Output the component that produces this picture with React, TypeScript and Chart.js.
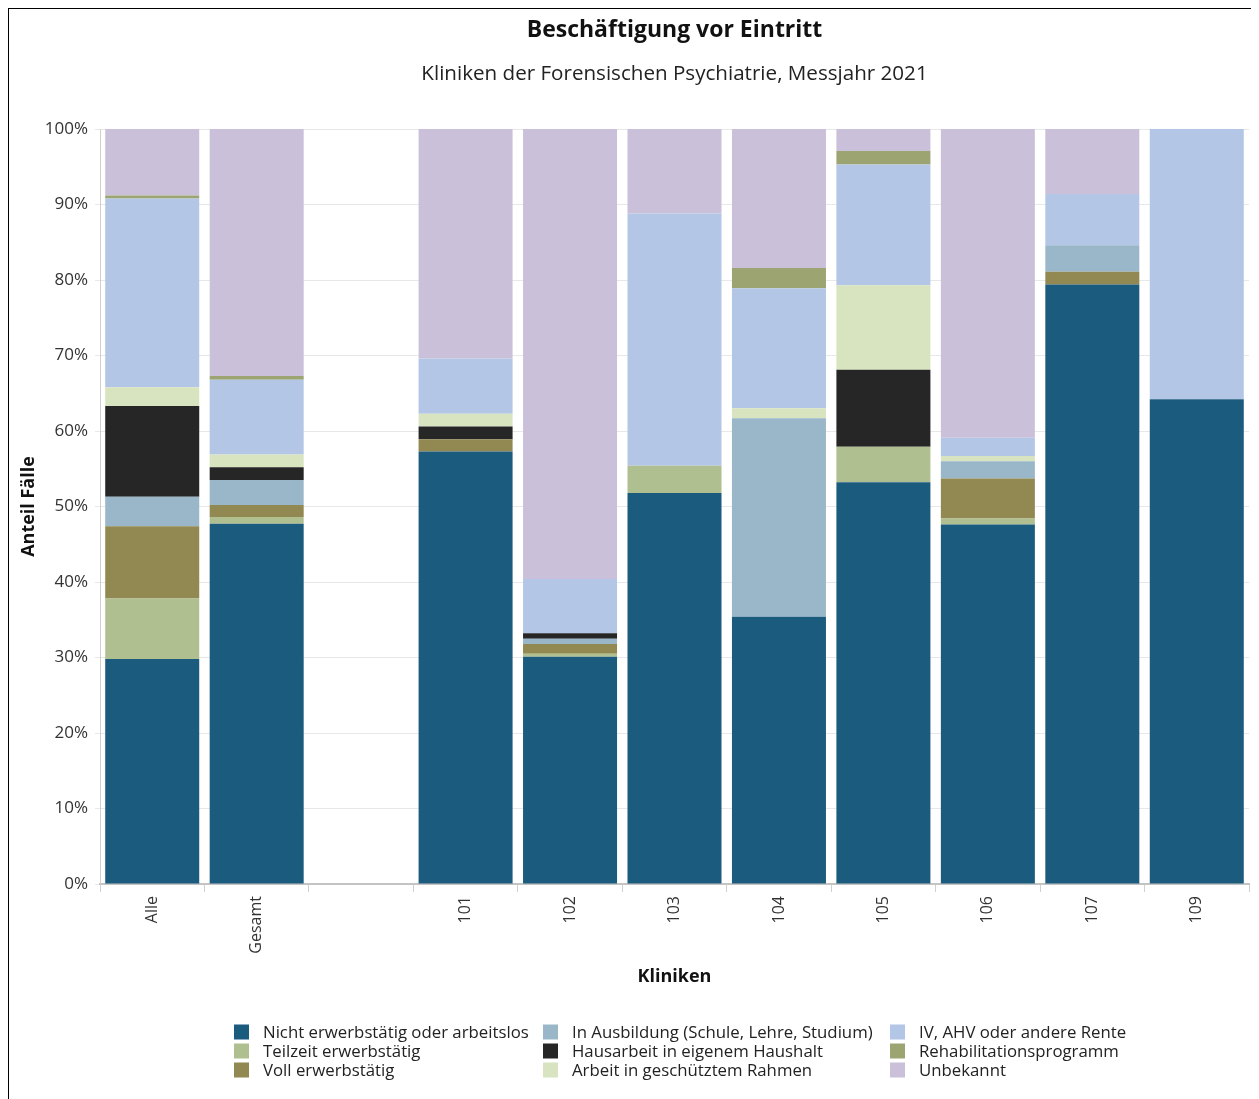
import React, { useEffect, useRef } from "react";
import { Chart, registerables } from "chart.js";

Chart.register(...registerables);

const categories = ["Alle", "Gesamt", "", "101", "102", "103", "104", "105", "106", "107", "109"];

const seriesNames = [
  "Nicht erwerbstätig oder arbeitslos",
  "Teilzeit erwerbstätig",
  "Voll erwerbstätig",
  "In Ausbildung (Schule, Lehre, Studium)",
  "Hausarbeit in eigenem Haushalt",
  "Arbeit in geschütztem Rahmen",
  "IV, AHV oder andere Rente",
  "Rehabilitationsprogramm",
  "Unbekannt",
];

const seriesColors = ["#1b5b7e", "#afbf8f", "#928851", "#99b7c9", "#262626", "#d8e4bf", "#b3c6e5", "#9ca572", "#cbc0da"];

const nichtErwerbstaetig = [29.8, 47.7, null, 57.3, 30.1, 51.8, 35.4, 53.2, 47.6, 79.4, 64.2];
const teilzeit = [8.0, 0.9, null, 0, 0.4, 3.6, 0, 4.7, 0.8, 0, 0];
const vollErwerbstaetig = [9.6, 1.6, null, 1.6, 1.3, 0, 0, 0, 5.3, 1.7, 0];
const ausbildung = [3.9, 3.3, null, 0, 0.7, 0, 26.3, 0, 2.3, 3.5, 0];
const hausarbeit = [12.0, 1.7, null, 1.7, 0.7, 0, 0, 10.2, 0, 0, 0];
const geschuetzt = [2.5, 1.7, null, 1.7, 0, 0, 1.3, 11.2, 0.7, 0, 0];
const rente = [25.0, 9.9, null, 7.3, 7.2, 33.4, 15.9, 16.0, 2.4, 6.8, 35.8];
const rehabilitation = [0.4, 0.5, null, 0, 0, 0, 2.7, 1.8, 0, 0, 0];
const unbekannt = [8.8, 32.7, null, 30.4, 59.6, 11.2, 18.4, 2.9, 40.9, 8.6, 0];

const seriesValues = [
  nichtErwerbstaetig,
  teilzeit,
  vollErwerbstaetig,
  ausbildung,
  hausarbeit,
  geschuetzt,
  rente,
  rehabilitation,
  unbekannt,
];

const yTicks = [0, 10, 20, 30, 40, 50, 60, 70, 80, 90, 100];

const chartTitle = "Beschäftigung vor Eintritt";
const chartSubtitle = "Kliniken der Forensischen Psychiatrie, Messjahr 2021";

const FONT = "'Open Sans', 'Noto Sans', sans-serif";

const overlayPlugin = {
  id: "overlayText",
  afterDraw(chart: any) {
    const ctx = chart.ctx;
    const area = chart.chartArea;
    const cx = (area.left + area.right) / 2;
    ctx.save();
    ctx.textBaseline = "middle";
    ctx.textAlign = "center";
    ctx.fillStyle = "#111";
    ctx.font = `bold 23px ${FONT}`;
    ctx.fillText(chartTitle, cx, 21);
    ctx.fillStyle = "#222";
    ctx.font = `20.6px ${FONT}`;
    ctx.fillText(chartSubtitle, cx, 65);

    const colX = [225, 534, 881];
    const rowY = [1023, 1042, 1061];
    ctx.font = `16.8px ${FONT}`;
    ctx.textAlign = "left";
    seriesNames.forEach((name, i) => {
      const col = Math.floor(i / 3);
      const row = i % 3;
      const x = colX[col];
      const y = rowY[row];
      ctx.fillStyle = seriesColors[i];
      ctx.fillRect(x, y - 7.5, 15, 15);
      ctx.fillStyle = "#222";
      ctx.fillText(name, x + 29, y + 1);
    });
    ctx.restore();
  },
};

export default function App() {
  const ref = useRef<HTMLCanvasElement | null>(null);

  useEffect(() => {
    if (!ref.current) return;
    const chart = new Chart(ref.current, {
      type: "bar",
      data: {
        labels: categories,
        datasets: seriesNames.map((name, i) => ({
          label: name,
          data: seriesValues[i],
          backgroundColor: seriesColors[i],
          borderWidth: 0,
          categoryPercentage: 0.9,
          barPercentage: 1,
        })),
      },
      options: {
        animation: false,
        responsive: false,
        maintainAspectRatio: false,
        layout: { padding: { left: 0, right: 10, top: 120, bottom: 111 } },
        plugins: {
          legend: { display: false },
          tooltip: { enabled: false },
          title: { display: false },
          subtitle: { display: false },
        },
        scales: {
          x: {
            stacked: true,
            grid: {
              display: true,
              offset: true,
              drawOnChartArea: false,
              drawTicks: true,
              tickLength: 8,
              color: "#d0d0d0",
            },
            border: { display: true, color: "#c4c4c4", width: 2 },
            ticks: {
              maxRotation: 90,
              minRotation: 90,
              color: "#333",
              font: { family: FONT, size: 16 },
              padding: 4,
            },
            title: {
              display: true,
              text: "Kliniken",
              color: "#111",
              font: { family: FONT, size: 18, weight: "bold" },
              padding: { top: 8, bottom: 0 },
            },
            afterFit(scale: any) {
              scale.height = 104;
            },
          },
          y: {
            stacked: true,
            min: 0,
            max: 100,
            afterBuildTicks(scale: any) {
              scale.ticks = yTicks.map((v) => ({ value: v }));
            },
            grid: {
              color: "#e8e8e8",
              lineWidth: 1,
              drawTicks: true,
              tickLength: 5,
            },
            border: { display: true, color: "#d0d0d0", width: 1 },
            ticks: {
              color: "#333",
              font: { family: FONT, size: 17 },
              padding: 7,
              callback: (v: any) => `${v}%`,
            },
            title: {
              display: true,
              text: "Anteil Fälle",
              color: "#111",
              font: { family: FONT, size: 18, weight: "bold" },
              padding: { top: 9, bottom: 2 },
            },
            afterFit(scale: any) {
              scale.width = 91;
            },
          },
        },
      },
      plugins: [overlayPlugin],
    });
    return () => chart.destroy();
  }, []);

  return (
    <div
      style={{
        width: 1251,
        height: 1091,
        borderTop: "1px solid #000",
        borderLeft: "1px solid #000",
        background: "#fff",
        boxSizing: "border-box",
        overflow: "hidden",
      }}
    >
      <canvas ref={ref} width={1250} height={1090} style={{ display: "block" }} />
    </div>
  );
}
